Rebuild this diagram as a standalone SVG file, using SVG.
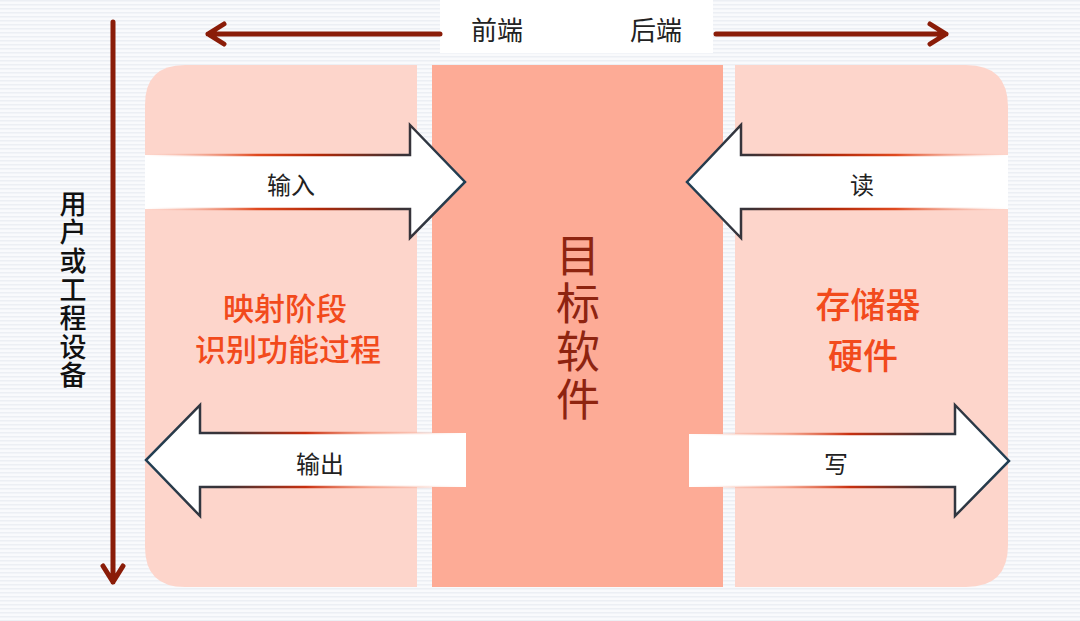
<svg xmlns="http://www.w3.org/2000/svg" width="1080" height="621" viewBox="0 0 1080 621">
<defs>
<pattern id="stripes" width="4" height="4" patternUnits="userSpaceOnUse">
<rect width="4" height="4" fill="#f9fafc"/>
<rect y="0" width="4" height="1.5" fill="#eceff4"/>
</pattern>
<linearGradient id="gIn" gradientUnits="userSpaceOnUse" x1="145" y1="0" x2="465" y2="0">
<stop offset="0" stop-color="#f6b4a2" stop-opacity="0"/>
<stop offset="0.35" stop-color="#e04a20"/>
<stop offset="0.55" stop-color="#b02808"/>
<stop offset="0.8" stop-color="#3a3236"/>
<stop offset="1" stop-color="#1f3f55"/>
</linearGradient>
<linearGradient id="gRead" gradientUnits="userSpaceOnUse" x1="1008" y1="0" x2="687" y2="0">
<stop offset="0" stop-color="#f6b4a2" stop-opacity="0"/>
<stop offset="0.35" stop-color="#e04a20"/>
<stop offset="0.55" stop-color="#b02808"/>
<stop offset="0.8" stop-color="#3a3236"/>
<stop offset="1" stop-color="#1f3f55"/>
</linearGradient>
<linearGradient id="gOut" gradientUnits="userSpaceOnUse" x1="466" y1="0" x2="145" y2="0">
<stop offset="0" stop-color="#f6b4a2" stop-opacity="0"/>
<stop offset="0.3" stop-color="#f08060" stop-opacity="0.6"/>
<stop offset="0.5" stop-color="#c83010"/>
<stop offset="0.75" stop-color="#3a3236"/>
<stop offset="1" stop-color="#1f3f55"/>
</linearGradient>
<linearGradient id="gWrite" gradientUnits="userSpaceOnUse" x1="689" y1="0" x2="1010" y2="0">
<stop offset="0" stop-color="#f6b4a2" stop-opacity="0"/>
<stop offset="0.3" stop-color="#f08060" stop-opacity="0.6"/>
<stop offset="0.5" stop-color="#c83010"/>
<stop offset="0.75" stop-color="#3a3236"/>
<stop offset="1" stop-color="#1f3f55"/>
</linearGradient>
</defs>
<style>
.panel-light{fill:#fdd5cb}
.panel-mid{fill:#fdab96}
.afill{fill:#ffffff;stroke:none}
.aline{fill:none;stroke-width:2.5;stroke-linejoin:miter}
.axis{fill:none;stroke:#8a1c08;stroke-width:5;stroke-linecap:round;stroke-linejoin:round}
.lbl{font-family:"Noto Sans CJK SC","Noto Sans CJK TC",sans-serif;fill:#222222;font-size:24px;text-anchor:middle;dominant-baseline:central}
.top{font-family:"Noto Sans CJK SC",sans-serif;fill:#222222;font-size:26px;text-anchor:middle;dominant-baseline:central}
.red{font-family:"Noto Sans CJK SC",sans-serif;fill:#f24a1c;font-weight:500;text-anchor:middle;dominant-baseline:central}
.vert{writing-mode:vertical-rl;text-orientation:upright;dominant-baseline:central;text-anchor:start}
.core{font-family:"Noto Sans CJK SC",sans-serif;fill:#8e2410;font-size:44px;letter-spacing:4px}
.side{font-family:"Noto Sans CJK SC",sans-serif;fill:#111111;font-size:27px;font-weight:500;letter-spacing:1.6px}
</style>
<rect width="1080" height="621" fill="url(#stripes)"/>

<g id="panel-left">
<path class="panel-light" d="M185,65 L417,65 L417,587 L185,587 Q145,587 145,547 L145,105 Q145,65 185,65 Z"/>
<text class="red" x="285" y="306" font-size="31">映射阶段</text>
<text class="red" x="288" y="347" font-size="31">识别功能过程</text>
</g>
<g id="panel-middle">
<rect class="panel-mid" x="432" y="65" width="291" height="522"/>
<text class="core vert" x="578" y="233">目标软件</text>
</g>
<g id="panel-right">
<path class="panel-light" d="M735,65 L966,65 Q1008,65 1008,107 L1008,545 Q1008,587 966,587 L735,587 Z"/>
<text class="red" x="868" y="302" font-size="35">存储器</text>
<text class="red" x="863" y="353" font-size="35">硬件</text>
</g>

<g id="header">
<rect x="440" y="0" width="273" height="53" fill="#ffffff"/>
<text class="top" x="497" y="28">前端</text>
<text class="top" x="656" y="28">后端</text>
</g>

<g id="connectors">
<path class="axis" d="M440,34 L208,34 M224,24 L208,34 L224,44"/>
<path class="axis" d="M716,34 L946,34 M930,24 L946,34 L930,44"/>
<path class="axis" d="M113,22 L113,582 M103,566 L113,582 L123,566"/>
</g>

<g id="arrow-input">
<polygon class="afill" points="145,155 410,155 410,125 465,182 410,238 410,209 145,209"/>
<path class="aline" stroke="url(#gIn)" d="M145,155 L410,155 L410,125 L465,182 L410,238 L410,209 L145,209"/>
<text class="lbl" x="291" y="183">输入</text>
</g>
<g id="arrow-read">
<polygon class="afill" points="1008,155 741,155 741,125 687,182 741,238 741,209 1008,209"/>
<path class="aline" stroke="url(#gRead)" d="M1008,155 L741,155 L741,125 L687,182 L741,238 L741,209 L1008,209"/>
<text class="lbl" x="862" y="183">读</text>
</g>
<g id="arrow-output">
<polygon class="afill" points="466,433 200,433 200,405 146,460 200,516 200,487 466,487"/>
<path class="aline" stroke="url(#gOut)" d="M466,433 L200,433 L200,405 L146,460 L200,516 L200,487 L466,487"/>
<text class="lbl" x="320" y="462">输出</text>
</g>
<g id="arrow-write">
<polygon class="afill" points="689,434 955,434 955,405 1009,461 955,516 955,487 689,487"/>
<path class="aline" stroke="url(#gWrite)" d="M689,434 L955,434 L955,405 L1009,461 L955,516 L955,487 L689,487"/>
<text class="lbl" x="836" y="462">写</text>
</g>

<g id="side-label">
<text class="side vert" x="73" y="190">用户或工程设备</text>
</g>
</svg>
